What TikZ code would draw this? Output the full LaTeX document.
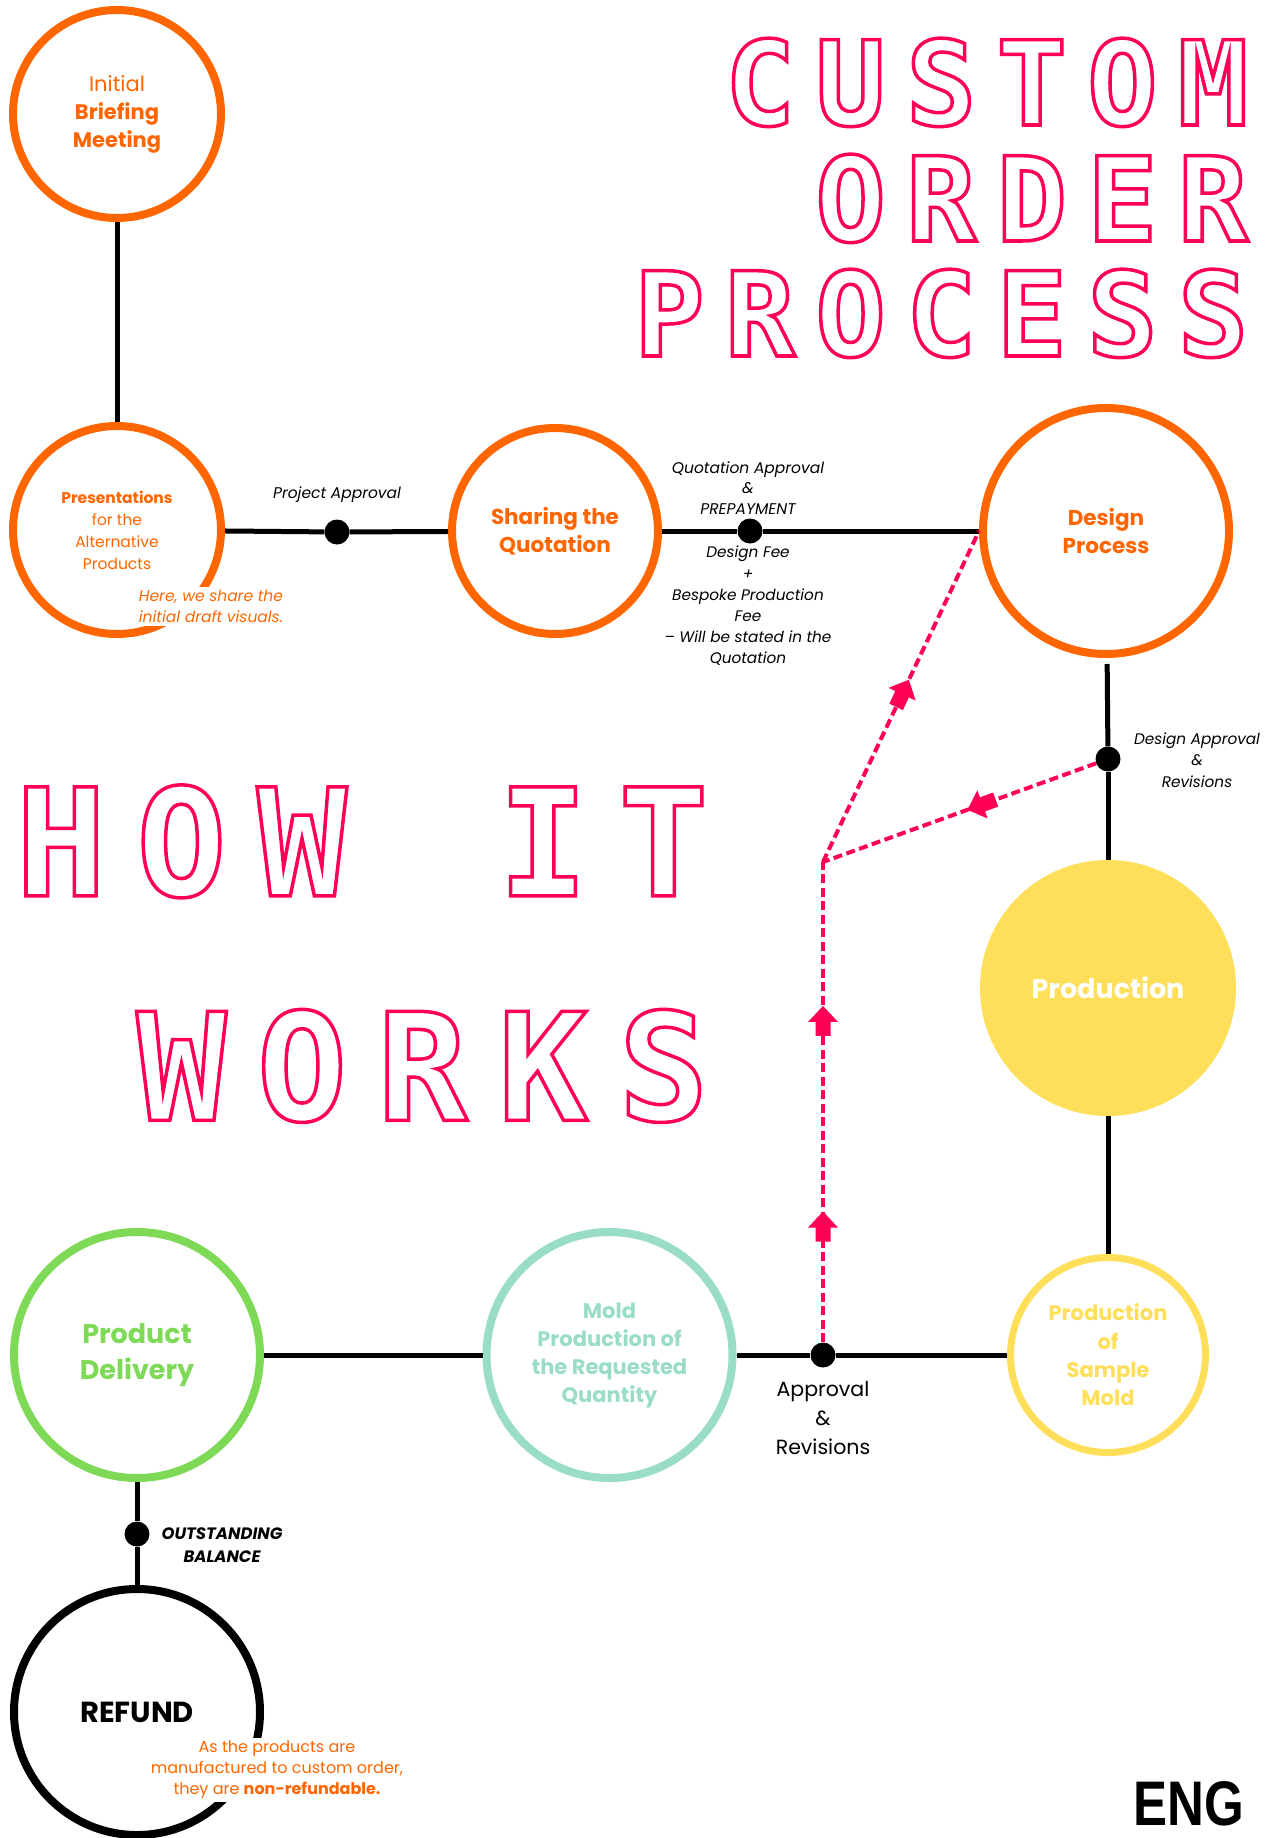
\documentclass[tikz,border=0pt]{standalone}
\usepackage{fontspec}
\setmainfont{Poppins}
\newfontfamily\monof{DejaVu Sans Mono Bold}
\newfontfamily\engf{Liberation Sans}
\usetikzlibrary{decorations.markings}
\definecolor{orng}{HTML}{FF6600}
\definecolor{pnk}{HTML}{FF0055}
\definecolor{ylw}{HTML}{FFDE59}
\definecolor{grn}{HTML}{7ED957}
\definecolor{tl}{HTML}{99DCC8}
\newcommand\fs[2]{\fontsize{#1}{#2}\selectfont}
\newcommand\arrshape{\fill[pnk,solid] (16,0) -- (0,15) -- (0,7.5) -- (-14,7.5) -- (-14,-7.5) -- (0,-7.5) -- (0,-15) -- cycle;}
\newcommand\outl[1]{\special{pdf:literal direct 1 Tr 3.5 w}#1\special{pdf:literal direct 0 Tr}}
\newcommand\olet[5]{%
  \node[anchor=base, inner sep=0pt, text=pnk, font=\monof\fs{#4}{#4}] (#1) at (#2,#3) {\outl{#5}};}
\begin{document}
\begin{tikzpicture}[x=1pt,y=-1pt,
  ring/.style={circle, draw=#1, line width=8pt, inner sep=0pt, align=center},
  dot/.style={circle, fill=black, minimum size=25pt, inner sep=0pt},
  conn/.style={line width=5pt, black},
  dsh/.style={pnk, line width=4pt, dash pattern=on 9pt off 4.5pt},
  lbl/.style={inner sep=0pt, align=center, font=\itshape\fs{15}{21}},
  note/.style={fill=white, inner sep=3pt, text=orng}]
\useasboundingbox[fill=white] (0,0) rectangle (1278,1838);

% title letters
\foreach \c/\x [count=\i] in {C/760,U/850.6,S/941.2,T/1031.8,O/1122.4,M/1213}
  {\olet{cu\i}{\x}{125}{117}{\c}}
\foreach \c/\x [count=\i] in {O/850.6,R/941.2,D/1031.8,E/1122.4,R/1213}
  {\olet{or\i}{\x}{241}{117}{\c}}
\foreach \c/\x [count=\i] in {P/669.4,R/760,O/850.6,C/941.2,E/1031.8,S/1122.4,S/1213}
  {\olet{pr\i}{\x}{356}{117}{\c}}
\foreach \c/\x [count=\i] in {H/61,O/181.5,W/302,I/543,T/663.5}
  {\olet{hw\i}{\x}{895.8}{149.5}{\c}}
\foreach \c/\x [count=\i] in {W/181.5,O/302,R/422.5,K/543,S/663.5}
  {\olet{wk\i}{\x}{1120.3}{149.5}{\c}}

% circles
\node[ring=orng, minimum size=208pt, text=orng, font=\fs{21}{28}] (brief) at (117,114) {Initial\\\textbf{Briefing}\\\textbf{Meeting}};
\node[ring=orng, minimum size=208pt, text=orng, font=\fs{15.5}{22}] (pres) at (117,530) {\textbf{Presentations}\\for the\\Alternative\\Products};
\node[ring=orng, minimum size=206pt, text=orng, font=\bfseries\fs{21.5}{28}] (share) at (555,531) {Sharing the\\Quotation};
\node[ring=orng, minimum size=246pt, text=orng, font=\bfseries\fs{21.5}{28}] (design) at (1106,531) {Design\\Process};
\node[circle, fill=ylw, minimum size=256pt, inner sep=0pt, text=white, font=\bfseries\fs{27}{32}] (prod) at (1108,988) {Production};
\node[ring=ylw, line width=7pt, minimum size=195pt, text=ylw, font=\bfseries\fs{21}{28.3}] (sample) at (1108,1355) {Production\\of\\Sample\\Mold};
\node[ring=tl, minimum size=246pt, text=tl, font=\bfseries\fs{21}{28}] (mold) at (609.5,1355) {Mold\\Production of\\the Requested\\Quantity};
\node[ring=grn, minimum size=246pt, text=grn, font=\bfseries\fs{27}{35.5}] (deliv) at (137,1355) {Product\\Delivery};
\node[ring=black, minimum size=246pt, font=\bfseries\fs{29}{32}] (refund) at (137,1712) {REFUND};

% dots
\node[dot] (d1) at (337,532) {};
\node[dot] (d2) at (750,531) {};
\node[dot] (d3) at (1108,759) {};
\node[dot] (d4) at (823,1355) {};
\node[dot] (d5) at (137,1534) {};
\coordinate (jn) at (823,862);

% solid connectors
\draw[conn] (brief) -- (pres);
\draw[conn] (pres) -- (d1) -- (share);
\draw[conn] (share) -- (d2) -- (design);
\draw[conn, shorten <=6pt] (design) -- (d3);
\draw[conn] (d3) -- (prod);
\draw[conn] (prod) -- (sample);
\draw[conn] (sample) -- (d4) -- (mold);
\draw[conn] (mold) -- (deliv);
\draw[conn] (deliv) -- (d5) -- (refund);

% dashed feedback paths
\draw[dsh, postaction={decorate}, decoration={markings, mark=at position 0.416 with {\arrshape}}] (d3) -- (jn);
\draw[dsh, postaction={decorate}, decoration={markings, mark=at position 0.507 with {\arrshape}}] (jn) -- (design.west);
\draw[dsh, postaction={decorate}, decoration={markings, mark=at position 0.239 with {\arrshape}, mark=at position 0.667 with {\arrshape}}] (d4) -- (jn);

% labels
\node[lbl, font=\itshape\fs{15.5}{21}] (tpa) at (337,495) {Project Approval};
\node[lbl, font=\itshape\fs{15.5}{20.5}] (tqa) at (748,488) {Quotation Approval\\\&\\PREPAYMENT};
\node[lbl, font=\itshape\fs{15.3}{21.2}] (tfee) at (748,606) {Design Fee\\+\\Bespoke Production\\Fee\\– Will be stated in the\\Quotation};
\node[lbl, font=\itshape\fs{15.3}{21.5}] (tda) at (1197,760) {Design Approval\\\&\\Revisions};
\node[lbl, font=\fs{20.5}{29}] (tar) at (823,1418) {Approval\\\&\\Revisions};
\node[lbl, font=\bfseries\itshape\fs{16.5}{22.5}] (tob) at (222,1545) {OUTSTANDING\\BALANCE};

% notes that cut the rings
\node[note, align=left, font=\itshape\fs{15.5}{21}] (here) at (211,606.5) {Here, we share the\\initial draft visuals.};
\node[note, align=center, font=\fs{16}{21}] (nonref) at (277,1770) {As the products are\\manufactured to custom order,\\they are \textbf{non-refundable.}};

% language tag
\node[anchor=base, inner sep=0pt, font=\engf\bfseries\fs{63}{63}] (eng) at (1189,1825) {\scalebox{0.81}[1]{ENG}};
\end{tikzpicture}
\end{document}
